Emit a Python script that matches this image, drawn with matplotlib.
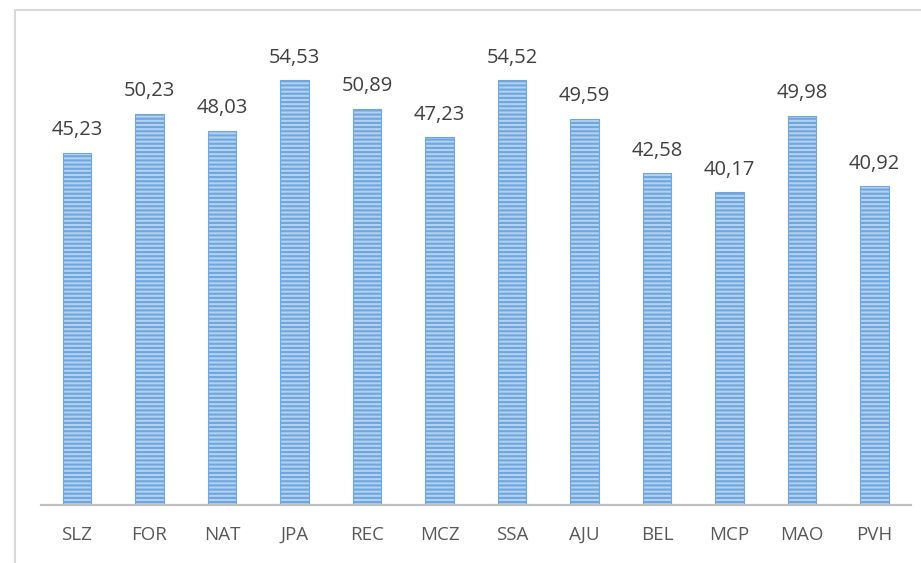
import matplotlib.pyplot as plt
from matplotlib.patches import Rectangle

cities = ['SLZ', 'FOR', 'NAT', 'JPA', 'REC', 'MCZ', 'SSA', 'AJU', 'BEL', 'MCP', 'MAO', 'PVH']
values = [45.23, 50.23, 48.03, 54.53, 50.89, 47.23, 54.52, 49.59, 42.58, 40.17, 49.98, 40.92]

plt.rcParams['font.family'] = ['Open Sans', 'DejaVu Sans']
plt.rcParams['hatch.linewidth'] = 1.5
plt.rcParams['hatch.color'] = '#4a8fd6'

fig = plt.figure(figsize=(9.21, 5.63), dpi=100)
ax = fig.add_axes([40.75 / 921, 1 - 505 / 563, 870 / 921, 475 / 563])

# outer chart frame (only left and top edges visible)
fig.patches.append(Rectangle((15 / 921, -0.1), 1.2, (563 - 10) / 563 + 0.1,
                             transform=fig.transFigure, fill=False,
                             edgecolor='#d9d9d9', linewidth=1.5))

x = range(len(cities))
bars = ax.bar(x, values, width=0.39, color='#b3d1f0', edgecolor='#6fa6dd',
              linewidth=0.8, hatch='----')

for xi, v in zip(x, values):
    ax.annotate(f'{v:.2f}'.replace('.', ','), (xi, v), xytext=(0, 9),
                textcoords='offset points', ha='center', va='bottom',
                fontsize=14.5, color='#404040')

ax.set_xlim(-0.5, len(cities) - 0.5)
ax.set_ylim(0, 61)
ax.set_xticks(list(x))
ax.set_xticklabels(cities, fontsize=13.5, color='#595959')
ax.tick_params(axis='x', length=0, pad=15)
ax.set_yticks([])
for s in ['top', 'right', 'left']:
    ax.spines[s].set_visible(False)
ax.spines['bottom'].set_color('#bfbfbf')
ax.spines['bottom'].set_linewidth(1.6)

fig.savefig('out.png', dpi=100)
